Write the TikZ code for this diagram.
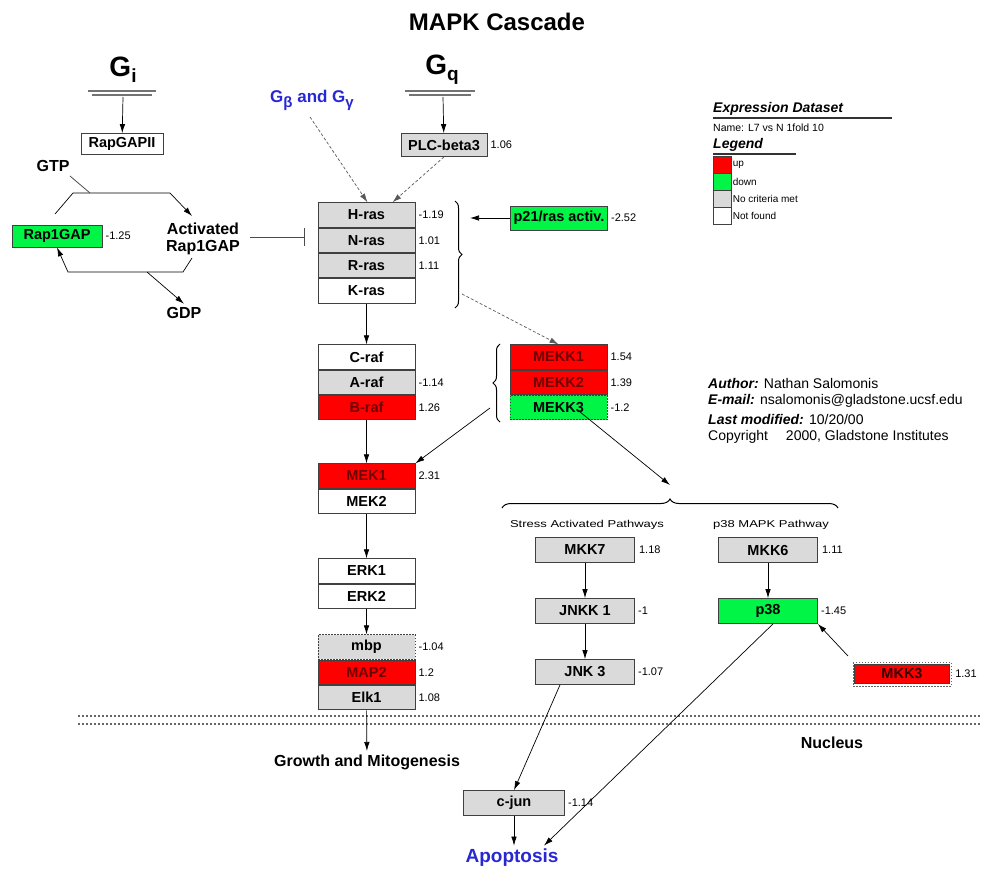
\documentclass[tikz,border=0pt]{standalone}
\usepackage{fontspec}
\setmainfont{Liberation Sans}
\usetikzlibrary{positioning,arrows.meta,decorations.pathreplacing}
\definecolor{upred}{RGB}{255,0,0}
\definecolor{uptext}{RGB}{110,0,0}
\definecolor{downgreen}{RGB}{0,245,70}
\definecolor{nogray}{RGB}{218,218,218}
\definecolor{gbgblue}{RGB}{40,40,210}
\tikzset{
  gene/.style={draw=black!75, line width=0.8pt, minimum width=97pt, minimum height=24.5pt, inner sep=1pt, font=\bfseries\fontsize{14.5}{14.5}\selectfont},
  subgene/.style={gene, minimum width=99pt, minimum height=25pt},
  upgene/.style={fill=upred, text=uptext},
  downgene/.style={fill=downgreen},
  nocrit/.style={fill=nogray},
  notfound/.style={fill=white},
  val/.style={font=\fontsize{11}{11}\selectfont, inner sep=1pt},
  lbl/.style={font=\bfseries\fontsize{16}{17}\selectfont, align=center},
  gsym/.style={font=\bfseries\fontsize{28}{28}\selectfont},
  memb/.style={draw=black!55, line width=1.4pt},
  arr/.style={-{Latex[length=9pt,width=5.5pt]}, line width=0.7pt},
  darr/.style={arr, dash pattern=on 3pt off 2pt, draw=black!65},
  wire/.style={line width=0.8pt, draw=black!70},
  lgbox/.style={draw=black!75, line width=0.6pt, minimum width=18pt, minimum height=16.5pt, inner sep=0pt},
  lgtext/.style={font=\fontsize{10}{10}\selectfont, anchor=west, inner sep=1pt},
  info/.style={font=\fontsize{14}{14}\selectfont, anchor=west, inner sep=0pt},
  pathlbl/.style={font=\fontsize{10}{10}\selectfont},
  nucl/.style={draw=black!60, line width=1.2pt, dash pattern=on 2pt off 2pt}
}
\begin{document}
\begin{tikzpicture}[x=1pt,y=-1pt]
  \useasboundingbox (0,0) rectangle (981,870);
  \node[font=\bfseries\fontsize{24}{24}\selectfont] (title) at (497,22) {MAPK Cascade};

  % G proteins
  \node[gsym] (gi) at (123,70) {G\raisebox{-6pt}{\fontsize{19}{19}\selectfont i}};
  \draw[memb] (88,91) -- (156,91);
  \draw[memb] (92,95) -- (152,95);
  \coordinate (gimem) at (123,97);
  \node[gsym] (gq) at (442,70) {G\raisebox{-6pt}{\fontsize{19}{19}\selectfont q}};
  \draw[memb] (405,91) -- (475,91);
  \draw[memb] (409,95) -- (471,95);
  \coordinate (gqmem) at (443,97);
  \node[font=\bfseries\fontsize{17}{17}\selectfont, text=gbgblue] (gbg) at (312,100)
    {G\raisebox{-5pt}{\fontsize{15}{15}\selectfont β} and G\raisebox{-5pt}{\fontsize{15}{15}\selectfont γ}};

  \node[gene, notfound, minimum width=82pt, minimum height=21pt] (rapgap2) at (122,144) {RapGAPII};
  \draw[arr] (gimem) -- (rapgap2);
  \node[gene, nocrit, minimum width=86pt, minimum height=23pt] (plcb3) at (444,145) {PLC-beta3};
  \node[val, right=2pt of plcb3] {1.06};
  \draw[arr] (gqmem) -- (plcb3);

  % Rap1GAP cycle
  \node[gene, downgene, minimum width=90pt, minimum height=22pt] (rap1gap) at (57,236) {Rap1GAP};
  \node[val, right=2pt of rap1gap] {-1.25};
  \node[lbl] (actrap) at (203,239) {Activated\\Rap1GAP};
  \node[lbl] (gtp) at (53,166) {GTP};
  \node[lbl] (gdp) at (184,313) {GDP};
  \coordinate (gtpin) at (90,193);
  \coordinate (gdpout) at (147,272);
  \coordinate (actin) at (192,216);
  \draw[arr] (55,214) -- (73,193) -- (170,193) -- (actin);
  \draw[wire] (70,176) -- (gtpin);
  \draw[arr] (192,258) -- (183,272) -- (68,272) -- (rap1gap.south);
  \draw[arr] (gdpout) -- (gdp.north);

  % ras
  \node[gene, nocrit] (hras) at (366.5,215) {H-ras};
  \node[gene, nocrit, below=0pt of hras] (nras) {N-ras};
  \node[gene, nocrit, below=0pt of nras] (rras) {R-ras};
  \node[gene, notfound, below=0pt of rras] (kras) {K-ras};
  \node[val, right=2pt of hras] {-1.19};
  \node[val, right=2pt of nras] {1.01};
  \node[val, right=2pt of rras] {1.11};
  \draw[wire, -{Bar[width=18pt]}, shorten >=13pt] (250,237) -- (250,237 -| hras.west);
  \draw[darr] (310,117) -- ([xshift=1pt]hras.north);
  \draw[darr] (plcb3.south) -- ([xshift=26pt]hras.north);
  \draw[line width=1pt, decorate, decoration={brace, amplitude=7pt}] (455,201) -- (455,308);
  \node[gene, downgene, minimum width=97pt, minimum height=24pt] (p21) at (559,218) {p21/ras activ.};
  \node[val, right=2pt of p21] {-2.52};
  \draw[arr] (p21.west) -- (470,218);

  % raf
  \node[gene, notfound] (craf) at (366.5,357) {C-raf};
  \node[gene, nocrit, below=0pt of craf] (araf) {A-raf};
  \node[gene, upgene, below=0pt of araf] (braf) {B-raf};
  \node[val, right=2pt of araf] {-1.14};
  \node[val, right=2pt of braf] {1.26};
  \draw[arr] (kras) -- (craf);

  % MEKK
  \node[gene, upgene] (mekk1) at (558.5,357) {MEKK1};
  \node[gene, upgene, below=0pt of mekk1] (mekk2) {MEKK2};
  \node[gene, downgene, dash pattern=on 1.5pt off 1.5pt, below=0pt of mekk2] (mekk3) {MEKK3};
  \node[val, right=2pt of mekk1] {1.54};
  \node[val, right=2pt of mekk2] {1.39};
  \node[val, right=2pt of mekk3] {-1.2};
  \draw[line width=1pt, decorate, decoration={brace, amplitude=7pt}] (500,422) -- (500,344);
  \coordinate (mekkbr) at (490,408);
  \draw[darr] (462,294) -- (mekk1.north);

  % MEK / ERK
  \node[gene, upgene] (mek1) at (366.5,476) {MEK1};
  \node[gene, notfound, below=0pt of mek1] (mek2) {MEK2};
  \node[val, right=2pt of mek1] {2.31};
  \draw[arr] (braf) -- (mek1);
  \draw[arr] (mekkbr) -- (mek1.north east);
  \node[gene, notfound] (erk1) at (366.5,571) {ERK1};
  \node[gene, notfound, below=0pt of erk1] (erk2) {ERK2};
  \draw[arr] (mek2) -- (erk1);

  % targets
  \node[gene, nocrit, dash pattern=on 1.5pt off 1.5pt] (mbp) at (366.5,647) {mbp};
  \node[gene, upgene, below=0pt of mbp] (map2) {MAP2};
  \node[gene, nocrit, below=0pt of map2] (elk1) {Elk1};
  \node[val, right=2pt of mbp] {-1.04};
  \node[val, right=2pt of map2] {1.2};
  \node[val, right=2pt of elk1] {1.08};
  \draw[arr] (erk2) -- (mbp);

  % nucleus
  \draw[nucl] (78,716) -- (981,716);
  \draw[nucl] (78,724) -- (981,724);
  \node[lbl] (nucleus) at (832,743) {Nucleus};
  \node[lbl] (growth) at (367,762) {Growth and Mitogenesis};
  \draw[arr] (elk1) -- (growth);

  % branch to JNK / p38
  \draw[line width=1pt, decorate, decoration={brace, amplitude=9pt}] (502,508) -- (838,508);
  \coordinate (jbr) at (670,485);
  \draw[arr] (mekk3.south east) ++(-27pt,8pt) -- (jbr);
  \node[pathlbl] (sap) at (587,525) {\scalebox{1.3}[1]{Stress Activated Pathways}};
  \node[pathlbl] (p38p) at (771,525) {\scalebox{1.3}[1]{p38 MAPK Pathway}};

  \node[subgene, nocrit] (mkk7) at (585,550) {MKK7};
  \node[subgene, nocrit] (jnkk1) at (585,611) {JNKK 1};
  \node[subgene, nocrit] (jnk3) at (585,672) {JNK 3};
  \node[val, right=3pt of mkk7] {1.18};
  \node[val, right=2pt of jnkk1] {-1};
  \node[val, right=2pt of jnk3] {-1.07};
  \draw[arr] (mkk7) -- (jnkk1);
  \draw[arr] (jnkk1) -- (jnk3);

  \node[subgene, nocrit] (mkk6) at (768,550) {MKK6};
  \node[subgene, downgene] (p38) at (768,611) {p38};
  \node[val, right=3pt of mkk6] {1.11};
  \node[val, right=2pt of p38] {-1.45};
  \draw[arr] (mkk6) -- (p38);

  \node[gene, upgene, text=black!80!red, minimum width=95pt, minimum height=19pt] (mkk3) at (902,674) {MKK3};
  \draw[black!60, line width=1pt, dash pattern=on 1.5pt off 1.5pt] (853,662) rectangle (951,686);
  \node[val] at (966,674) {1.31};
  \draw[arr] (848,656) -- (p38.south east);

  \node[subgene, nocrit, minimum width=101pt] (cjun) at (514,803) {c-jun};
  \node[val, right=2pt of cjun] {-1.14};
  \node[lbl, text=gbgblue, font=\bfseries\fontsize{19}{19}\selectfont] (apopt) at (512,858) {Apoptosis};
  \draw[arr] ([xshift=-25pt]jnk3.south) -- (cjun.north);
  \draw[arr] (cjun.south) -- (cjun.south |- apopt.north);
  \draw[arr] ([xshift=5pt]p38.south) -- ([xshift=32pt]apopt.north);

  % legend
  \node[info, font=\bfseries\itshape\fontsize{14}{14}\selectfont] (expds) at (713,109) {Expression Dataset};
  \draw[line width=1.5pt, black!80] (713,118) -- (892,118);
  \node[lgtext, font=\fontsize{10.5}{10.5}\selectfont] (dsname) at (712,128) {Name: L7 vs N 1fold 10};
  \node[info, font=\bfseries\itshape\fontsize{14}{14}\selectfont] (legend) at (713,145) {Legend};
  \draw[line width=1.5pt, black!80] (713,154) -- (796,154);
  \node[lgbox, fill=upred, anchor=north west] (lgup) at (713,156) {};
  \node[lgbox, fill=downgreen, below=0pt of lgup] (lgdown) {};
  \node[lgbox, fill=nogray, below=0pt of lgdown] (lgno) {};
  \node[lgbox, fill=white, below=0pt of lgno] (lgnf) {};
  \node[lgtext, right=0pt of lgup] {up};
  \node[lgtext, right=0pt of lgdown] {down};
  \node[lgtext, right=0pt of lgno] {No criteria met};
  \node[lgtext, right=0pt of lgnf] {Not found};

  % author
  \node[info] (author) at (708,383) {\textbf{\textit{Author:}} Nathan Salomonis};
  \node[info] (email) at (708,401) {\textbf{\textit{E-mail:}} nsalomonis@gladstone.ucsf.edu};
  \node[info] (lastmod) at (708,419) {\textbf{\textit{Last modified:}} 10/20/00};
  \node[info] (copy) at (708,437) {Copyright \quad 2000, Gladstone Institutes};
\end{tikzpicture}
\end{document}
